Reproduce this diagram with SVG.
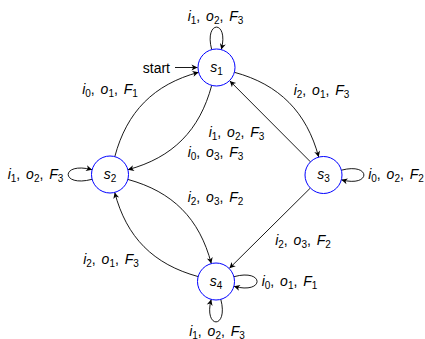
<svg xmlns="http://www.w3.org/2000/svg" width="425" height="339" viewBox="0 0 425 339">
  <defs>
    <marker id="arr" viewBox="-7 -4 8 8" refX="0" refY="0" markerWidth="8" markerHeight="8" markerUnits="userSpaceOnUse" orient="auto">
      <path d="M0,0 L-6,-3 L-4.3,0 L-6,3 Z" fill="#000"/>
    </marker>
  </defs>
  <style>
    .node circle { fill: #fff; stroke: #0000ff; stroke-width: 1; }
    .edge { fill: none; stroke: #000; stroke-width: 0.9; marker-end: url(#arr); }
    text { font-family: "Liberation Sans", Arial, sans-serif; font-size: 14px; fill: #000; }
    .lbl { text-anchor: middle; word-spacing: 2px; }
    .m { font-style: italic; }
    .sb { font-size: 10px; }
  </style>
  <rect width="425" height="339" fill="#fff"/>

  <!-- connectors -->
  <g id="edges">
    <!-- start -->
    <path class="edge" d="M175,67.5 L197.5,67.5"/>
    <text x="170" y="72.5" text-anchor="end">start</text>
    <!-- s1 self loop -->
    <path class="edge" d="M211.7,49.6 C203.7,19.6 229.3,19.6 221.3,49.6"/>
    <!-- s2 -> s1 -->
    <path class="edge" d="M114.8,156.6 C126.8,111.7 153.7,84.4 198.6,72.3"/>
    <!-- s1 -> s2 -->
    <path class="edge" d="M211.7,85.4 C199.7,130.3 172.8,157.6 127.9,169.7"/>
    <!-- s1 -> s3 -->
    <path class="edge" d="M234.4,72.3 C279.3,84.4 306.7,112.2 318.7,157.1"/>
    <!-- s3 -> s1 -->
    <path class="edge" d="M310.5,161.9 L229.8,80.9"/>
    <!-- s2 self loop -->
    <path class="edge" d="M92.1,179.3 C60.2,187.8 60.2,161.2 92.1,169.7"/>
    <!-- s3 self loop -->
    <path class="edge" d="M341.4,170.2 C371.4,162.2 371.4,187.8 341.4,179.8"/>
    <!-- s2 -> s4 -->
    <path class="edge" d="M127.8,179.4 C172.7,191.7 199.5,218.6 211.3,263.6"/>
    <!-- s3 -> s4 -->
    <path class="edge" d="M310.4,188 L229.4,268.3"/>
    <!-- s4 -> s2 -->
    <path class="edge" d="M198.2,276.6 C153.3,264.3 126.5,237.4 114.7,192.4"/>
    <!-- s4 self loops -->
    <path class="edge" d="M233.9,276.7 C264.8,268.2 264.8,294.8 233.9,286.3"/>
    <path class="edge" d="M220.8,299.4 C228.8,329.4 203.2,329.4 211.2,299.4"/>

    <!-- edge labels -->
    <text class="lbl" x="215.5" y="20.5"><tspan class="m">i</tspan><tspan class="sb" dy="3">1</tspan><tspan dy="-3">, </tspan><tspan class="m">o</tspan><tspan class="sb" dy="3">2</tspan><tspan dy="-3">, </tspan><tspan class="m">F</tspan><tspan class="sb" dy="3">3</tspan></text>
    <text class="lbl" x="110" y="94"><tspan class="m">i</tspan><tspan class="sb" dy="3">0</tspan><tspan dy="-3">, </tspan><tspan class="m">o</tspan><tspan class="sb" dy="3">1</tspan><tspan dy="-3">, </tspan><tspan class="m">F</tspan><tspan class="sb" dy="3">1</tspan></text>
    <text class="lbl" x="321.5" y="94.5"><tspan class="m">i</tspan><tspan class="sb" dy="3">2</tspan><tspan dy="-3">, </tspan><tspan class="m">o</tspan><tspan class="sb" dy="3">1</tspan><tspan dy="-3">, </tspan><tspan class="m">F</tspan><tspan class="sb" dy="3">3</tspan></text>
    <text class="lbl" x="236.5" y="137.3"><tspan class="m">i</tspan><tspan class="sb" dy="3">1</tspan><tspan dy="-3">, </tspan><tspan class="m">o</tspan><tspan class="sb" dy="3">2</tspan><tspan dy="-3">, </tspan><tspan class="m">F</tspan><tspan class="sb" dy="3">3</tspan></text>
    <text class="lbl" x="215.5" y="156.5"><tspan class="m">i</tspan><tspan class="sb" dy="3">0</tspan><tspan dy="-3">, </tspan><tspan class="m">o</tspan><tspan class="sb" dy="3">3</tspan><tspan dy="-3">, </tspan><tspan class="m">F</tspan><tspan class="sb" dy="3">3</tspan></text>
    <text class="lbl" x="35.5" y="179"><tspan class="m">i</tspan><tspan class="sb" dy="3">1</tspan><tspan dy="-3">, </tspan><tspan class="m">o</tspan><tspan class="sb" dy="3">2</tspan><tspan dy="-3">, </tspan><tspan class="m">F</tspan><tspan class="sb" dy="3">3</tspan></text>
    <text class="lbl" x="396" y="179"><tspan class="m">i</tspan><tspan class="sb" dy="3">0</tspan><tspan dy="-3">, </tspan><tspan class="m">o</tspan><tspan class="sb" dy="3">2</tspan><tspan dy="-3">, </tspan><tspan class="m">F</tspan><tspan class="sb" dy="3">2</tspan></text>
    <text class="lbl" x="215.5" y="201.5"><tspan class="m">i</tspan><tspan class="sb" dy="3">2</tspan><tspan dy="-3">, </tspan><tspan class="m">o</tspan><tspan class="sb" dy="3">3</tspan><tspan dy="-3">, </tspan><tspan class="m">F</tspan><tspan class="sb" dy="3">2</tspan></text>
    <text class="lbl" x="303" y="245"><tspan class="m">i</tspan><tspan class="sb" dy="3">2</tspan><tspan dy="-3">, </tspan><tspan class="m">o</tspan><tspan class="sb" dy="3">3</tspan><tspan dy="-3">, </tspan><tspan class="m">F</tspan><tspan class="sb" dy="3">2</tspan></text>
    <text class="lbl" x="111" y="264"><tspan class="m">i</tspan><tspan class="sb" dy="3">2</tspan><tspan dy="-3">, </tspan><tspan class="m">o</tspan><tspan class="sb" dy="3">1</tspan><tspan dy="-3">, </tspan><tspan class="m">F</tspan><tspan class="sb" dy="3">3</tspan></text>
    <text class="lbl" x="289.5" y="286"><tspan class="m">i</tspan><tspan class="sb" dy="3">0</tspan><tspan dy="-3">, </tspan><tspan class="m">o</tspan><tspan class="sb" dy="3">1</tspan><tspan dy="-3">, </tspan><tspan class="m">F</tspan><tspan class="sb" dy="3">1</tspan></text>
    <text class="lbl" x="217" y="335.5"><tspan class="m">i</tspan><tspan class="sb" dy="3">1</tspan><tspan dy="-3">, </tspan><tspan class="m">o</tspan><tspan class="sb" dy="3">2</tspan><tspan dy="-3">, </tspan><tspan class="m">F</tspan><tspan class="sb" dy="3">3</tspan></text>
  </g>

  <!-- states -->
  <g id="s1" class="node">
    <circle cx="216.5" cy="67.5" r="18.5"/>
    <text class="lbl" x="216.5" y="71.5"><tspan class="m">s</tspan><tspan class="sb" dy="3">1</tspan></text>
  </g>
  <g id="s2" class="node">
    <circle cx="110" cy="174.5" r="18.5"/>
    <text class="lbl" x="110" y="178.5"><tspan class="m">s</tspan><tspan class="sb" dy="3">2</tspan></text>
  </g>
  <g id="s3" class="node">
    <circle cx="323.5" cy="175" r="18.5"/>
    <text class="lbl" x="323.5" y="179"><tspan class="m">s</tspan><tspan class="sb" dy="3">3</tspan></text>
  </g>
  <g id="s4" class="node">
    <circle cx="216" cy="281.5" r="18.5"/>
    <text class="lbl" x="216" y="285.5"><tspan class="m">s</tspan><tspan class="sb" dy="3">4</tspan></text>
  </g>
</svg>
